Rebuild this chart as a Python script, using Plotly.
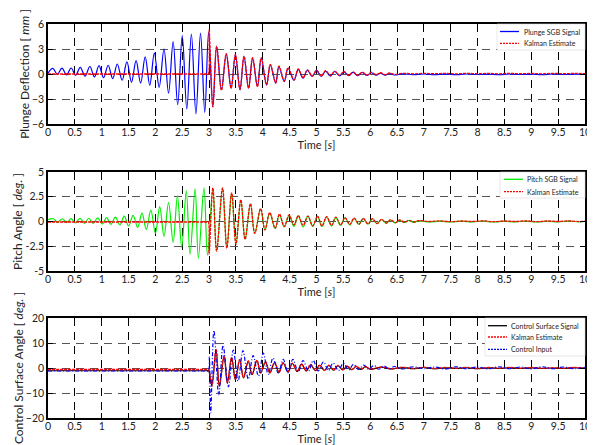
import plotly.graph_objects as go

# ---------------- data ----------------
x_ticks = [0, 0.5, 1, 1.5, 2, 2.5, 3, 3.5, 4, 4.5, 5, 5.5, 6, 6.5, 7, 7.5, 8, 8.5, 9, 9.5, 10]
x_tick_text = ["0", "0.5", "1", "1.5", "2", "2.5", "3", "3.5", "4", "4.5", "5",
               "5.5", "6", "6.5", "7", "7.5", "8", "8.5", "9", "9.5", "10"]
plunge_ticks = [-6, -3, 0, 3, 6]
pitch_ticks = [-5, -2.5, 0, 2.5, 5]
pitch_tick_text = ["-5", "-2.5", "0", "2.5", "5"]
cs_ticks = [-20, -10, 0, 10, 20]

# Plunge SGB signal (extrema, mm)
t_pl = [0.00, 0.09, 0.175, 0.26, 0.345, 0.43, 0.515, 0.60, 0.69, 0.78,
        0.865, 0.95, 1.035, 1.12, 1.205, 1.29, 1.38, 1.47, 1.555, 1.64,
        1.725, 1.81, 1.895, 1.98, 2.07, 2.16, 2.245, 2.33, 2.415, 2.50,
        2.585, 2.67, 2.755, 2.84, 2.92, 2.99,
        3.07, 3.14, 3.23, 3.32, 3.41, 3.49, 3.575, 3.65, 3.735, 3.81,
        3.90, 3.97, 4.07, 4.14, 4.24, 4.30, 4.40, 4.47, 4.58, 4.66,
        4.75, 4.83, 4.92, 5.00, 5.09, 5.17, 5.26, 5.34, 5.43, 5.51,
        5.60, 5.68, 5.77, 5.85, 5.94, 6.02, 6.11, 6.19, 6.28, 6.36,
        6.45,
        6.6, 6.8, 7.0, 7.2, 7.4, 7.6, 7.8, 8.0, 8.2, 8.4, 8.6, 8.8,
        9.0, 9.2, 9.4, 9.6, 9.8, 10.0]
plunge_sgb = [0.10, 0.67, -0.05, 0.70, -0.10, 0.72, -0.15, 0.80, -0.25, 0.90,
              -0.35, 1.00, -0.45, 1.05, -0.55, 1.20, -0.75, 1.45, -1.00, 1.60,
              -1.10, 2.05, -1.35, 2.50, -1.60, 3.00, -2.30, 3.90, -3.70, 4.60,
              -4.20, 4.80, -4.80, 4.90, -4.60, 5.00,
              -3.90, 3.30, -1.90, 2.40, -1.70, 2.30, -1.90, 2.10, -1.70, 1.90,
              -1.50, 1.90, -1.30, 1.10, -1.10, 0.90, -0.90, 0.70, -0.75, 0.55,
              -0.50, 0.45, -0.30, 0.40, -0.30, 0.35, -0.25, 0.30, -0.22, 0.25,
              -0.20, 0.20, -0.20, 0.18, -0.18, 0.15, -0.15, 0.10, -0.14, 0.06,
              -0.12,
              0.02, -0.08, 0.00, -0.07, -0.01, -0.08, 0.00, -0.06, -0.01, -0.07,
              0.00, -0.06, -0.02, -0.07, 0.00, -0.06, -0.01, -0.05]

# Plunge Kalman estimate (flat at 0 until the switch-on at 3 s)
t_pl_k = [0.00, 2.96, 2.985, 3.00,
          3.07, 3.14, 3.23, 3.32, 3.41, 3.49, 3.575, 3.65, 3.735, 3.81,
          3.90, 3.97, 4.07, 4.14, 4.24, 4.30, 4.40, 4.47, 4.58, 4.66,
          4.75, 4.83, 4.92, 5.00, 5.09, 5.17, 5.26, 5.34, 5.43, 5.51,
          5.60, 5.68, 5.77, 5.85, 5.94, 6.02, 6.11, 6.19, 6.28, 6.36,
          6.45,
          6.6, 6.8, 7.0, 7.2, 7.4, 7.6, 7.8, 8.0, 8.2, 8.4, 8.6, 8.8,
          9.0, 9.2, 9.4, 9.6, 9.8, 10.0]
plunge_kal = [0.0, 0.0, 0.0, 5.30,
              -3.95, 3.35, -1.95, 2.45, -1.70, 2.35, -1.85, 2.15, -1.70, 1.95,
              -1.50, 1.95, -1.30, 1.15, -1.05, 0.95, -0.85, 0.75, -0.70, 0.60,
              -0.45, 0.50, -0.25, 0.45, -0.25, 0.40, -0.20, 0.35, -0.15, 0.30,
              -0.15, 0.25, -0.15, 0.22, -0.12, 0.20, -0.10, 0.15, -0.08, 0.12,
              -0.05,
              0.08, 0.02, 0.08, 0.03, 0.07, 0.02, 0.08, 0.03, 0.07, 0.02,
              0.08, 0.03, 0.07, 0.02, 0.08, 0.03, 0.07, 0.04]

# Pitch SGB signal (extrema, deg)
t_pi = [0.00, 0.10, 0.18, 0.265, 0.35, 0.43, 0.51, 0.595, 0.68, 0.76,
        0.84, 0.925, 1.01, 1.09, 1.17, 1.255, 1.34, 1.42, 1.50, 1.585,
        1.67, 1.75, 1.83, 1.915, 2.00, 2.08, 2.16, 2.245, 2.33, 2.41,
        2.49, 2.575, 2.645, 2.74, 2.80, 2.905, 2.97,
        3.07, 3.14, 3.25, 3.33, 3.42, 3.50, 3.59, 3.67, 3.77, 3.85,
        3.96, 4.04, 4.13, 4.23, 4.31, 4.40, 4.49, 4.58, 4.66, 4.75,
        4.84, 4.93, 5.02, 5.10, 5.19, 5.28, 5.36, 5.45, 5.53, 5.62,
        5.70, 5.79, 5.87, 5.96, 6.04, 6.13, 6.21, 6.30, 6.38, 6.47,
        6.55, 6.64, 6.72, 6.81, 6.90,
        7.1, 7.3, 7.5, 7.7, 7.9, 8.1, 8.3, 8.5, 8.7, 8.9, 9.1, 9.3,
        9.5, 9.7, 9.9, 10.0]
pitch_sgb = [0.20, 0.28, -0.08, 0.28, -0.12, 0.30, -0.15, 0.32, -0.18, 0.33,
             -0.20, 0.36, -0.25, 0.40, -0.28, 0.45, -0.35, 0.55, -0.45, 0.62,
             -0.60, 0.85, -0.80, 1.15, -1.20, 1.50, -1.50, 1.90, -2.10, 2.60,
             -2.60, 3.10, -3.30, 3.30, -3.70, 3.40, -3.40,
             3.35, -2.95, 3.35, -2.65, 2.85, -2.25, 2.15, -1.80, 1.75, -1.20,
             1.25, -0.85, 0.85, -0.70, 0.70, -0.55, 0.62, -0.50, 0.60, -0.55,
             0.55, -0.50, 0.50, -0.50, 0.45, -0.45, 0.40, -0.40, 0.38, -0.35,
             0.32, -0.30, 0.30, -0.28, 0.25, -0.22, 0.20, -0.18, 0.15, -0.15,
             0.12, -0.10, 0.10, -0.08, 0.06,
             -0.05, 0.04, -0.05, 0.03, -0.04, 0.04, -0.05, 0.03, -0.04, 0.04,
             -0.05, 0.03, -0.04, 0.04, -0.03, 0.00]

# Pitch Kalman estimate
t_pi_k = [0.00, 2.96, 2.985, 3.00,
          3.07, 3.14, 3.25, 3.33, 3.42, 3.50, 3.59, 3.67, 3.77, 3.85,
          3.96, 4.04, 4.13, 4.23, 4.31, 4.40, 4.49, 4.58, 4.66, 4.75,
          4.84, 4.93, 5.02, 5.10, 5.19, 5.28, 5.36, 5.45, 5.53, 5.62,
          5.70, 5.79, 5.87, 5.96, 6.04, 6.13, 6.21, 6.30, 6.38, 6.47,
          6.55, 6.64, 6.72, 6.81, 6.90,
          7.1, 7.3, 7.5, 7.7, 7.9, 8.1, 8.3, 8.5, 8.7, 8.9, 9.1, 9.3,
          9.5, 9.7, 9.9, 10.0]
pitch_kal = [-0.05, -0.05, -0.05, -3.30,
             3.40, -3.00, 3.40, -2.70, 2.90, -2.30, 2.20, -1.80, 1.80, -1.20,
             1.30, -0.85, 0.90, -0.70, 0.75, -0.50, 0.67, -0.35, 0.60, -0.40,
             0.55, -0.45, 0.55, -0.45, 0.50, -0.40, 0.45, -0.35, 0.40, -0.30,
             0.35, -0.28, 0.32, -0.25, 0.28, -0.20, 0.22, -0.16, 0.18, -0.12,
             0.15, -0.08, 0.12, -0.06, 0.08,
             0.00, 0.06, -0.02, 0.05, 0.00, 0.06, -0.02, 0.05, 0.00, 0.06,
             -0.02, 0.05, 0.00, 0.06, -0.01, 0.03]

# Control surface signal and Kalman estimate (extrema, deg)
t_cs = [0.00, 2.96, 2.99,
        3.05, 3.13, 3.19, 3.28, 3.34, 3.42, 3.49, 3.57, 3.64, 3.73,
        3.80, 3.89, 3.96, 4.05, 4.13, 4.22, 4.30, 4.38, 4.47, 4.55,
        4.64, 4.72, 4.81, 4.89, 4.98, 5.06, 5.15, 5.23, 5.32, 5.40,
        5.49, 5.57, 5.66, 5.74, 5.83, 5.91, 6.00,
        6.2, 6.4, 6.6, 6.8, 7.0, 7.2, 7.4, 7.6, 7.8, 8.0,
        8.2, 8.4, 8.6, 8.8, 9.0, 9.2, 9.4, 9.6, 9.8, 10.0]
cs_signal = [-1.1, -1.1, -1.1,
             -7.0, 7.3, -7.3, 4.8, -6.0, 4.0, -4.7, 3.3, -4.0, 2.7,
             -2.7, 3.0, -2.0, 2.4, -2.0, 2.2, -1.8, 2.0, -1.6, 1.8,
             -1.4, 1.5, -1.2, 1.3, -1.1, 1.1, -1.0, 1.0, -0.9, 0.9,
             -0.8, 0.7, -0.7, 0.6, -0.6, 0.5, -0.5,
             0.3, -0.4, 0.2, -0.3, 0.2, -0.3, 0.1, -0.2, 0.1, -0.3,
             0.1, -0.2, 0.1, -0.2, 0.1, -0.2, 0.0, -0.2, 0.1, -0.1]
cs_kal = [-0.6, -0.6, -0.6,
          -7.3, 7.6, -7.0, 5.0, -5.8, 4.2, -4.5, 3.4, -3.8, 2.8,
          -2.6, 3.1, -1.9, 2.5, -1.9, 2.3, -1.7, 2.1, -1.5, 1.9,
          -1.3, 1.6, -1.1, 1.4, -1.0, 1.2, -0.9, 1.1, -0.8, 1.0,
          -0.7, 0.8, -0.6, 0.7, -0.5, 0.6, -0.4,
          0.4, -0.3, 0.3, -0.2, 0.3, -0.2, 0.2, -0.1, 0.2, -0.2,
          0.2, -0.1, 0.2, -0.1, 0.2, -0.1, 0.1, -0.1, 0.2, 0.0]

# Control input (extrema, deg)
t_ci = [0.00, 2.96, 2.99, 3.005, 3.03,
        3.09, 3.18, 3.26, 3.36, 3.45, 3.54, 3.63, 3.73, 3.82, 3.92,
        4.01, 4.10, 4.19, 4.29, 4.38, 4.47, 4.56, 4.66, 4.75, 4.85,
        4.94, 5.03, 5.13, 5.22, 5.31, 5.41, 5.50, 5.60, 5.69, 5.78,
        5.88, 5.97, 6.07, 6.16, 6.26, 6.35, 6.45,
        6.6, 6.8, 7.0, 7.2, 7.4, 7.6, 7.8, 8.0, 8.2, 8.4,
        8.6, 8.8, 9.0, 9.2, 9.4, 9.6, 9.8, 10.0]
control_input = [-1.2, -1.2, -1.2, 4.5, -18.0,
                 15.0, -10.7, 9.0, -7.5, 7.2, -5.2, 7.0, -4.5, 5.0, -3.2,
                 6.0, -2.5, 4.0, -2.1, 3.5, -1.9, 3.5, -1.5, 3.0, -1.3,
                 3.0, -1.2, 2.5, -1.0, 2.0, -1.0, 2.0, -0.8, 1.5, -0.6,
                 1.2, -0.5, 1.0, -0.5, 0.8, -0.4, 0.6,
                 -0.4, 0.5, -0.3, 0.4, -0.4, 0.5, -0.3, 0.4, -0.4, 0.5,
                 -0.3, 0.4, -0.4, 0.5, -0.3, 0.4, -0.3, 0.3]

names_top = ["Plunge SGB Signal", "Kalman Estimate"]
names_mid = ["Pitch SGB Signal", "Kalman Estimate"]
names_bot = ["Control Surface Signal", "Kalman Estimate", "Control Input"]

# ---------------- figure ----------------
FONT = "Lato, 'Open Sans', sans-serif"
BLUE, RED, GREEN, BLACK = "#0000ff", "#ff0000", "#00ee00", "#000000"
DASH_K = "3px,1px"
DASH_CI = "4px,2px,1px,2px"

fig = go.Figure()

def line(x, y, name, color, dash, xa, ya, width=1.2):
    fig.add_trace(go.Scatter(
        x=x, y=y, name=name, mode="lines", showlegend=False,
        line=dict(color=color, dash=dash, width=width, shape="spline", smoothing=1.0),
        xaxis=xa, yaxis=ya))

line(t_pl, plunge_sgb, names_top[0], BLUE, "solid", "x", "y")
line(t_pl_k, plunge_kal, names_top[1], RED, DASH_K, "x", "y", 1.3)
line(t_pi, pitch_sgb, names_mid[0], GREEN, "solid", "x2", "y2")
line(t_pi_k, pitch_kal, names_mid[1], RED, DASH_K, "x2", "y2", 1.3)
line(t_cs, cs_signal, names_bot[0], BLACK, "solid", "x3", "y3")
line(t_cs, cs_kal, names_bot[1], RED, DASH_K, "x3", "y3", 1.3)
line(t_ci, control_input, names_bot[2], BLUE, DASH_CI, "x3", "y3")

# The page body has an 8px margin; plot area on the page spans x 48..585, y 24..418
def px(xp):
    return (xp - 48) / 537.0

def py(yp):
    return (418 - yp) / 394.0

d1, d2, d3 = [py(124), py(24)], [py(271), py(172)], [py(418), py(318)]

xcommon = dict(range=[0, 10], tickvals=x_ticks, ticktext=x_tick_text, automargin=False,
               showgrid=True, gridcolor="#000000", gridwidth=1, griddash="8px,6px",
               zeroline=False, showline=True, linecolor="#000000", linewidth=1.5,
               mirror="ticks", ticks="inside", ticklen=5, tickcolor="#000000",
               ticklabelstandoff=-2,
               tickfont=dict(size=10.5, color="#222", family=FONT),
               title=dict(text="Time [<i>s</i>]", font=dict(size=11, color="#222", family=FONT), standoff=0))
ycommon = dict(showgrid=True, gridcolor="#555555", gridwidth=1, griddash="8px,6px", automargin=False,
               zeroline=False, showline=True, linecolor="#000000", linewidth=1.5,
               mirror="ticks", ticks="inside", ticklen=5, tickcolor="#000000",
               tickfont=dict(size=10.5, color="#222", family=FONT))

def ytitle(t):
    return dict(text=t, font=dict(size=12, color="#222", family=FONT), standoff=0)

# legends drawn as boxes + samples + labels (page pixel positions)
shapes, annotations = [], []

def legend(box, items, x_line, x_text):
    x0, x1, y0, y1 = box
    shapes.append(dict(type="rect", xref="paper", yref="paper", layer="above",
                       x0=px(x0), x1=px(x1), y0=py(y1), y1=py(y0),
                       fillcolor="white", line=dict(color="#d8d8d8", width=0.6)))
    for yy, name, color, dash in items:
        shapes.append(dict(type="line", xref="paper", yref="paper", layer="above",
                           x0=px(x_line[0]), x1=px(x_line[1]), y0=py(yy), y1=py(yy),
                           line=dict(color=color, width=1.3, dash=dash)))
        annotations.append(dict(xref="paper", yref="paper", x=px(x_text), y=py(yy),
                                xanchor="left", yanchor="middle", showarrow=False,
                                text=name, font=dict(size=7, color="#222", family=FONT)))

legend((497, 585, 24, 50),
       [(31.5, names_top[0], BLUE, "solid"), (43.3, names_top[1], RED, "2px,1px")],
       (500, 519), 522)
legend((500, 585, 172, 198),
       [(179.3, names_mid[0], GREEN, "solid"), (191.7, names_mid[1], RED, "2px,1px")],
       (504, 523), 525)
legend((485, 585, 318, 356),
       [(325.7, names_bot[0], BLACK, "solid"), (337.0, names_bot[1], RED, "2px,1px"),
        (349.3, names_bot[2], BLUE, "2px,1px")],
       (488, 507), 509)

fig.update_layout(
    width=587, height=445, autosize=False,
    margin=dict(l=40, r=10, t=16, b=35),
    paper_bgcolor="white", plot_bgcolor="white",
    font=dict(family=FONT, color="#222"),
    showlegend=False,
    xaxis=dict(domain=[0, 1], anchor="y", **xcommon),
    xaxis2=dict(domain=[0, 1], anchor="y2", **xcommon),
    xaxis3=dict(domain=[0, 1], anchor="y3", **xcommon),
    yaxis=dict(domain=d1, anchor="x", range=[-6, 6], tickvals=plunge_ticks,
               title=ytitle("Plunge Deflection [ <i>mm</i> ]"), **ycommon),
    yaxis2=dict(domain=d2, anchor="x2", range=[-5, 5], tickvals=pitch_ticks,
                ticktext=pitch_tick_text,
                title=ytitle("Pitch Angle [ <i>deg.</i> ]"), **ycommon),
    yaxis3=dict(domain=d3, anchor="x3", range=[-20, 20], tickvals=cs_ticks,
                title=ytitle("Control Surface Angle [ <i>deg.</i> ]"), **ycommon),
    shapes=shapes,
    annotations=annotations,
)

fig.write_html("out.html")
